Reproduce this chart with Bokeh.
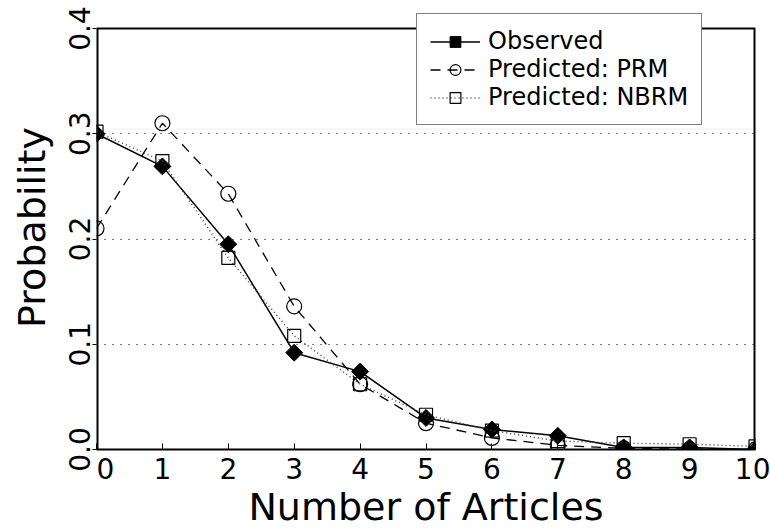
import math
from bokeh.plotting import figure
from bokeh.models import FixedTicker, Legend, LegendItem, Range1d, NumeralTickFormatter
from bokeh.embed import file_html
from bokeh.resources import INLINE

articles = list(range(11))
observed = [0.300, 0.269, 0.195, 0.092, 0.074, 0.030, 0.019, 0.013, 0.002, 0.002, 0.000]
prm = [0.210, 0.310, 0.243, 0.136, 0.062, 0.025, 0.011, 0.004, 0.001, 0.0004, 0.0001]
nbrm = [0.302, 0.274, 0.182, 0.108, 0.062, 0.033, 0.018, 0.008, 0.006, 0.005, 0.003]
x_ticks = list(range(11))
y_ticks = [0.0, 0.1, 0.2, 0.3, 0.4]
grid_ticks = [0.1, 0.2, 0.3]
X_MIN, X_MAX = 0, 10
Y_MIN, Y_MAX = 0.0, 0.4

FONT = "DejaVu Sans"

# frame spans y=5..449 px so that the legend may rise above the 0.4 border (at y=28 px)
FRAME_TOP, BORDER_TOP, FRAME_BOTTOM = 5, 28, 449
y_end = Y_MAX * (FRAME_BOTTOM - FRAME_TOP) / (FRAME_BOTTOM - BORDER_TOP)

p = figure(width=770, height=531, output_backend="svg", toolbar_location=None,
           x_range=Range1d(X_MIN, X_MAX), y_range=Range1d(Y_MIN, y_end),
           min_border_left=96, min_border_right=15, min_border_top=FRAME_TOP,
           min_border_bottom=531 - FRAME_BOTTOM)

p.outline_line_color = None
p.xgrid.visible = False
p.ygrid.ticker = FixedTicker(ticks=grid_ticks)
p.ygrid.grid_line_color = "black"
p.ygrid.grid_line_dash = "1 7"
p.ygrid.grid_line_width = 1

xa = p.xaxis[0]
xa.ticker = FixedTicker(ticks=x_ticks)
xa.major_label_overrides = {0: "\u00a0\u00a00"}
xa.axis_label = "Number of Articles"
xa.axis_label_text_font = FONT
xa.axis_label_text_font_style = "normal"
xa.axis_label_text_font_size = "38px"
xa.axis_label_text_color = "black"
xa.axis_label_standoff = -4
xa.major_label_text_font = FONT
xa.major_label_text_font_size = "28px"
xa.major_label_text_color = "black"
xa.major_label_standoff = 3
xa.major_tick_in = 6
xa.major_tick_out = 0
xa.minor_tick_line_color = None
xa.axis_line_width = 2
xa.major_tick_line_width = 1

ya = p.yaxis[0]
ya.ticker = FixedTicker(ticks=y_ticks)
ya.formatter = NumeralTickFormatter(format="0.0")
ya.axis_label = "Probability"
ya.axis_label_text_font = FONT
ya.axis_label_text_font_style = "normal"
ya.axis_label_text_font_size = "38px"
ya.axis_label_text_color = "black"
ya.axis_label_standoff = 12
ya.major_label_text_font = FONT
ya.major_label_text_font_size = "28px"
ya.major_label_text_color = "black"
ya.major_label_orientation = "vertical"
ya.major_label_standoff = 3
ya.major_tick_in = 0
ya.major_tick_out = 4
ya.minor_tick_line_color = None
ya.axis_line_color = None

# plot box: left, top and right borders (bottom is the x axis line)
p.segment(x0=[X_MIN, X_MIN, X_MAX], y0=[Y_MIN, Y_MAX, Y_MIN],
          x1=[X_MIN, X_MAX, X_MAX], y1=[Y_MAX, Y_MAX, Y_MAX],
          line_color="black", line_width=[4, 2, 4])

# Observed
l_obs = p.line(articles, observed, line_color="black", line_width=1.5)
s_obs = p.scatter(articles, observed, marker="square", size=12, angle=math.pi / 4,
                  fill_color="black", line_color="black")
# PRM
l_prm = p.line(articles, prm, line_color="black", line_width=1.3, line_dash="10 7")
s_prm = p.scatter(articles, prm, marker="circle", size=15, fill_color=None,
                  line_color="black", line_width=1.2)
# NBRM
l_nb = p.line(articles, nbrm, line_color="#444444", line_width=1.5, line_dash="1 3")
s_nb = p.scatter(articles, nbrm, marker="square", size=13, fill_color=None,
                 line_color="black", line_width=1.2)

legend = Legend(items=[
    LegendItem(label="Observed", renderers=[l_obs, s_obs]),
    LegendItem(label="Predicted: PRM", renderers=[l_prm, s_prm]),
    LegendItem(label="Predicted: NBRM", renderers=[l_nb, s_nb]),
], location=(320, 324))
legend.label_text_font = FONT
legend.label_text_font_size = "24px"
legend.label_text_color = "black"
legend.glyph_width = 50
legend.glyph_height = 27
legend.spacing = -1
legend.padding = 13
legend.margin = 0
legend.label_standoff = 8
legend.border_line_color = "black"
legend.border_line_width = 1
legend.background_fill_color = "white"
legend.background_fill_alpha = 1.0
p.add_layout(legend, "center")

open("out.html", "w").write(file_html(p, INLINE))
